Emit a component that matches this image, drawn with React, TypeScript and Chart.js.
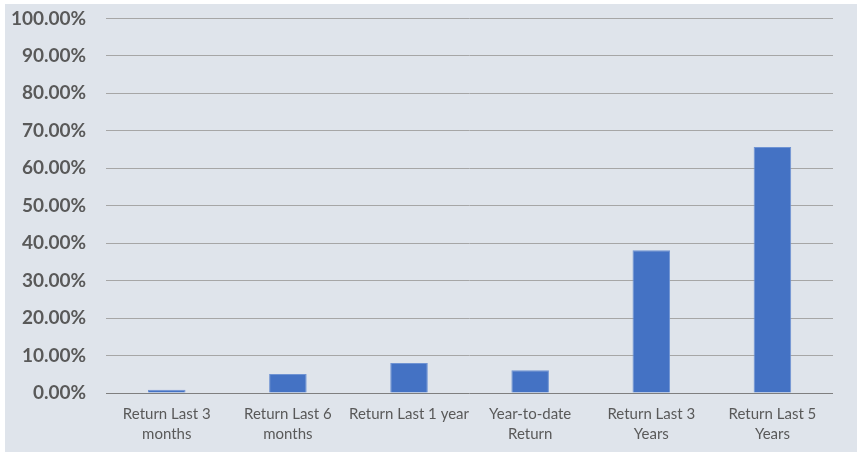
import React, { useEffect, useRef } from "react";
import { Chart, registerables } from "chart.js";

Chart.register(...registerables);

const categories: string[][] = [
  ["Return Last 3", "months"],
  ["Return Last 6", "months"],
  ["Return Last 1 year"],
  ["Year-to-date", "Return"],
  ["Return Last 3", "Years"],
  ["Return Last 5", "Years"],
];
const returnValues: number[] = [0.9, 5.1, 8.0, 6.1, 38.1, 65.7];
const yMin = 0;
const yMax = 100;
const yStep = 10;

export default function App() {
  const ref = useRef<HTMLCanvasElement | null>(null);
  useEffect(() => {
    if (!ref.current) return;
    const chart = new Chart(ref.current, {
      type: "bar",
      data: {
        labels: categories,
        datasets: [
          {
            data: returnValues,
            backgroundColor: "#4472C4",
            borderColor: "#6F93D3",
            borderWidth: 1,
            categoryPercentage: 1,
            barPercentage: 0.31,
          },
        ],
      },
      options: {
        animation: false,
        responsive: false,
        maintainAspectRatio: false,
        layout: { padding: { left: 3, right: 24, top: 4, bottom: 0 } },
        plugins: { legend: { display: false }, tooltip: { enabled: false } },
        scales: {
          x: {
            grid: { display: false, drawTicks: false },
            border: { display: false },
            ticks: {
              color: "#595959",
              font: { family: "Lato", size: 15, lineHeight: 1.33 },
              padding: 11,
              maxRotation: 0,
              autoSkip: false,
            },
          },
          y: {
            min: yMin,
            max: yMax,
            grid: {
              color: (ctx: any) => (ctx.tick && ctx.tick.value === 0 ? "#7F7F7F" : "#A6A6A6"),
              lineWidth: 1,
              drawTicks: true,
              tickLength: 17,
              tickColor: "rgba(0,0,0,0)",
            },
            border: { display: false },
            ticks: {
              stepSize: yStep,
              color: "#595959",
              font: { family: "Lato", size: 19, weight: "bold" },
              padding: 3,
              callback: (v: any) => Number(v).toFixed(2) + "%",
            },
          },
        },
      },
    });
    return () => chart.destroy();
  }, []);
  return (
    <div
      style={{
        position: "absolute",
        left: 5,
        top: 4,
        width: 852,
        height: 448,
        overflow: "hidden",
        background: "#DFE4EB",
      }}
    >
      <canvas ref={ref} width={852} height={451} style={{ display: "block" }} />
    </div>
  );
}
